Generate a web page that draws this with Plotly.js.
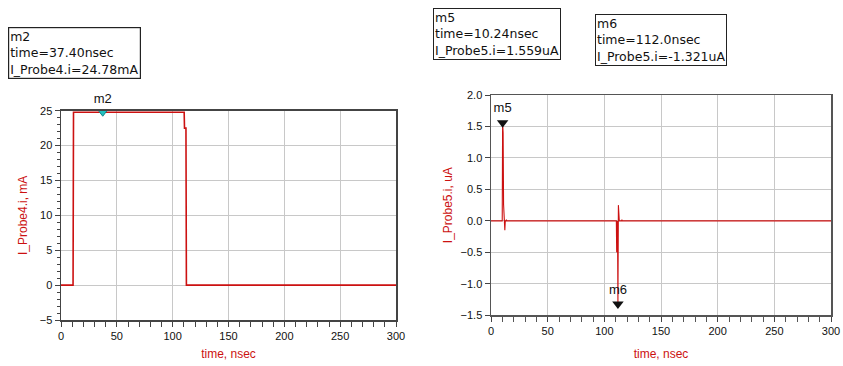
<!DOCTYPE html>
<html>
<head>
<meta charset="utf-8">
<script src="https://cdn.plot.ly/plotly-3.0.1.min.js"></script>
<style>
  html, body { margin: 0; padding: 0; background: #fff; }
  #chart { width: 843px; height: 366px; }
</style>
</head>
<body>
<div id="chart"></div>
<script>
// I_Probe4 current pulse (mA) vs time (nsec)
const probe4Time = [0, 10.8, 11.2, 37.4, 110.3, 110.6, 111.9, 112.3, 300];
const probe4Current = [0, 0, 24.78, 24.78, 24.78, 22.5, 22.5, 0, 0];

// I_Probe5 current transients (uA) vs time (nsec)
const probe5Time = [0, 9.9, 10.24, 10.7, 11.1, 11.4, 11.7, 12.2, 12.6, 13.4, 13.6, 13.8,
                    110.6, 110.9, 111.2, 111.6, 112.0, 112.4, 112.8, 113.2, 115.3, 115.5, 115.7, 300];
const probe5Current = [0, 0, 1.559, 1.40, 0.26, 0.0, 0.25, -0.15, 0.0, 0.0, 0.02, 0.0,
                       0.0, -0.5, -0.48, 0.0, -1.321, 0.25, 0.0, 0.0, 0.0, 0.02, 0.0, 0];

// Markers: name, time, value
const m2 = { name: 'm2', time: 37.40, value: 24.78, probe: 'I_Probe4.i', unit: 'mA' };
const m5 = { name: 'm5', time: 10.24, value: 1.559, probe: 'I_Probe5.i', unit: 'uA' };
const m6 = { name: 'm6', time: 112.0, value: -1.321, probe: 'I_Probe5.i', unit: 'uA' };

// Axis ticks
const leftYTicks = [-5, 0, 5, 10, 15, 20, 25];
const rightYTicks = [-1.5, -1.0, -0.5, 0.0, 0.5, 1.0, 1.5, 2.0];
const timeTicks = [0, 50, 100, 150, 200, 250, 300];

const W = 843, H = 366;
const RED = '#cc1111';
const markerLabel = m =>
  `${m.name}<br>time=${m.time.toPrecision(4)}nsec<br>${m.probe}=${m.value.toPrecision(4)}${m.unit}`;

const traces = [
  { x: probe4Time, y: probe4Current, xaxis: 'x', yaxis: 'y', mode: 'lines',
    line: { color: RED, width: 1.6 }, hoverinfo: 'x+y' },
  { x: probe5Time, y: probe5Current, xaxis: 'x2', yaxis: 'y2', mode: 'lines',
    line: { color: RED, width: 1.1 }, hoverinfo: 'x+y' },
  { x: [m2.time], y: [m2.value], xaxis: 'x', yaxis: 'y', mode: 'markers+text',
    marker: { symbol: 'triangle-down', size: 8, color: '#22c0c0', line: { color: '#118888', width: 1 } },
    text: [m2.name], textposition: 'top center', cliponaxis: false,
    textfont: { family: 'Liberation Sans, Arial', size: 13, color: '#111' } },
  { x: [m5.time, m6.time], y: [m5.value, m6.value], xaxis: 'x2', yaxis: 'y2', mode: 'markers+text',
    marker: { symbol: 'triangle-down', size: 10, color: '#111' },
    text: [m5.name, m6.name], textposition: 'top center', cliponaxis: false,
    textfont: { family: 'Liberation Sans, Arial', size: 13, color: '#111' } }
];

const tickFont = { family: 'Liberation Sans, Arial', size: 11, color: '#111' };
const titleFont = { family: 'Liberation Sans, Arial', size: 12, color: RED };
const boxFont = { family: 'DejaVu Sans, Verdana', size: 12.5, color: '#111' };

function axisBase(extra) {
  return Object.assign({
    showline: true, mirror: true, linecolor: '#444', linewidth: 1.5,
    showgrid: true, gridcolor: '#c8c8c8', gridwidth: 1,
    zeroline: false, ticks: 'outside', ticklen: 5, tickcolor: '#444',
    tickfont: tickFont, fixedrange: true
  }, extra);
}

const layout = {
  width: W, height: H,
  margin: { l: 0, r: 0, t: 0, b: 0 },
  paper_bgcolor: '#fff', plot_bgcolor: '#fff',
  showlegend: false,
  xaxis: axisBase({
    domain: [61 / W, 396 / W], anchor: 'y', range: [0, 300],
    tickvals: timeTicks,
    minor: { dtick: 10, ticks: 'outside', ticklen: 5, tickcolor: '#444', showgrid: false },
    title: { text: 'time, nsec', font: titleFont, standoff: 9 }
  }),
  yaxis: axisBase({
    domain: [1 - 320 / H, 1 - 110.7 / H], anchor: 'x', range: [-5, 25],
    tickvals: leftYTicks,
    minor: { dtick: 1, ticks: 'outside', ticklen: 3, tickcolor: '#444', showgrid: false },
    title: { text: 'I_Probe4.i, mA', font: titleFont, standoff: 9 }
  }),
  xaxis2: axisBase({
    domain: [491 / W, 831 / W], anchor: 'y2', range: [0, 300],
    tickvals: timeTicks, linecolor: '#555',
    minor: { dtick: 10, ticks: 'outside', ticklen: 5, tickcolor: '#555', showgrid: false },
    title: { text: 'time, nsec', font: titleFont, standoff: 13 }
  }),
  yaxis2: axisBase({
    domain: [1 - 315.3 / H, 1 - 95 / H], anchor: 'x2', range: [-1.5, 2.0],
    tickvals: rightYTicks, tickformat: '.1f', linecolor: '#555',
    title: { text: 'I_Probe5.i, uA', font: titleFont, standoff: 5 }
  }),
  annotations: [
    { text: markerLabel(m2), xref: 'paper', yref: 'paper', x: 8 / W, y: 1 - 27 / H,
      xanchor: 'left', yanchor: 'top', align: 'left', showarrow: false,
      bordercolor: '#222', borderwidth: 1.2, borderpad: 1, bgcolor: '#fff', font: boxFont },
    { text: markerLabel(m5), xref: 'paper', yref: 'paper', x: 433 / W, y: 1 - 8 / H,
      xanchor: 'left', yanchor: 'top', align: 'left', showarrow: false,
      bordercolor: '#222', borderwidth: 1, borderpad: 1, bgcolor: '#fff', font: boxFont },
    { text: markerLabel(m6), xref: 'paper', yref: 'paper', x: 595 / W, y: 1 - 14 / H,
      xanchor: 'left', yanchor: 'top', align: 'left', showarrow: false,
      bordercolor: '#222', borderwidth: 1, borderpad: 1, bgcolor: '#fff', font: boxFont }
  ]
};

Plotly.newPlot('chart', traces, layout, { staticPlot: true, displayModeBar: false });
</script>
</body>
</html>
